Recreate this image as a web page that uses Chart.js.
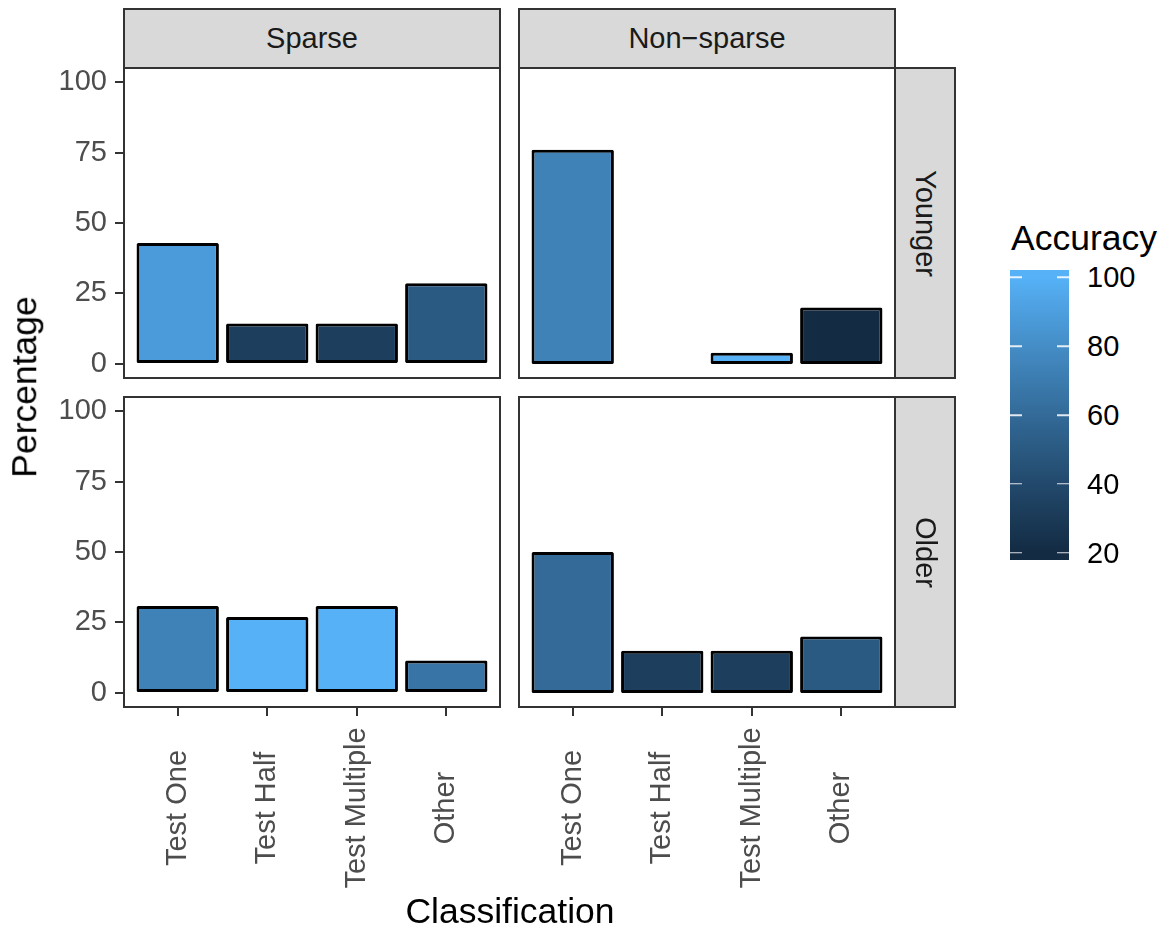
<!DOCTYPE html>
<html>
<head>
<meta charset="utf-8">
<script src="https://cdn.jsdelivr.net/npm/chart.js@4.4.0/dist/chart.umd.min.js"></script>
<style>
  html, body { margin: 0; padding: 0; background: #fff; }
  body { width: 1166px; height: 931px; position: relative; overflow: hidden;
         font-family: "Liberation Sans", Arial, sans-serif; }
  canvas { position: absolute; }
  .strip { position: absolute; box-sizing: border-box; background: #d9d9d9; border: 2px solid #333;
           display: flex; align-items: center; justify-content: center; color: #1a1a1a; font-size: 29px; }
  .strip span { white-space: nowrap; line-height: 1; }
  .strip.v span { transform: rotate(90deg); }
  .title { position: absolute; font-size: 35.5px; color: #000; white-space: nowrap; line-height: 1; }
  .lab { position: absolute; font-size: 29px; color: #000; line-height: 1; transform: translateY(-50%); }
  .ltick { position: absolute; height: 1.5px; width: 12px; background: rgba(255,255,255,0.85); transform: translateY(-50%); }
</style>
</head>
<body>
<canvas id="p-sy" width="520" height="350" style="left:0;top:48px"></canvas>
<canvas id="p-ny" width="416" height="350" style="left:499px;top:48px"></canvas>
<canvas id="p-so" width="520" height="554" style="left:0;top:377px"></canvas>
<canvas id="p-no" width="416" height="554" style="left:499px;top:377px"></canvas>

<div class="strip" style="left:123px;top:8px;width:378px;height:61px"><span id="s-col0"></span></div>
<div class="strip" style="left:518px;top:8px;width:378px;height:61px"><span id="s-col1"></span></div>
<div class="strip v" style="left:894px;top:67px;width:62px;height:312px"><span id="s-row0"></span></div>
<div class="strip v" style="left:894px;top:396px;width:62px;height:312px"><span id="s-row1"></span></div>

<div class="title" style="left:510px;top:912px;transform:translate(-50%,-50%)">Classification</div>
<div class="title" style="left:25px;top:387px;transform:translate(-50%,-50%) rotate(-90deg)">Percentage</div>
<div class="title" style="left:1011px;top:221px">Accuracy</div>
<div id="legend"></div>

<script>
// ---- data ----
const CATEGORIES = ['Test One', 'Test Half', 'Test Multiple', 'Other'];
const DENSITY = ['Sparse', 'Non\u2212sparse'];
const AGE = ['Younger', 'Older'];

const PCT_SPARSE_YOUNGER = [42.9, 14.3, 14.3, 28.6];
const PCT_NONSPARSE_YOUNGER = [76, null, 4, 20];
const PCT_SPARSE_OLDER = [30.8, 26.9, 30.8, 11.5];
const PCT_NONSPARSE_OLDER = [50, 15, 15, 20];

const ACC_SPARSE_YOUNGER = [88, 33, 33, 50];
const ACC_NONSPARSE_YOUNGER = [74, null, 100, 20];
const ACC_SPARSE_OLDER = [74, 100, 100, 66];
const ACC_NONSPARSE_OLDER = [60, 33, 33, 50];

const Y_TICKS = [0, 25, 50, 75, 100];
const ACC_TICKS = [20, 40, 60, 80, 100];
const ACC_MIN = 20, ACC_MAX = 100;

const FONT = '"Liberation Sans", Arial, sans-serif';
const LOW = '#132B43', HIGH = '#56B1F7';

// ---- Lab colour ramp (like scale_fill_gradient) ----
const WP = [0.95047, 1, 1.08883];
function toLin(c) { c /= 255; return c <= 0.04045 ? c / 12.92 : Math.pow((c + 0.055) / 1.055, 2.4); }
function fromLin(c) {
    const v = c <= 0.0031308 ? 12.92 * c : 1.055 * Math.pow(c, 1 / 2.4) - 0.055;
    return Math.round(Math.min(1, Math.max(0, v)) * 255);
}
function hexToLab(hex) {
    const r = toLin(parseInt(hex.slice(1, 3), 16)), g = toLin(parseInt(hex.slice(3, 5), 16)), b = toLin(parseInt(hex.slice(5, 7), 16));
    const xyz = [
        0.4124 * r + 0.3576 * g + 0.1805 * b,
        0.2126 * r + 0.7152 * g + 0.0722 * b,
        0.0193 * r + 0.1192 * g + 0.9505 * b,
    ];
    const f = xyz.map((v, i) => {
        const t = v / WP[i];
        return t > 0.008856 ? Math.cbrt(t) : 7.787 * t + 16 / 116;
    });
    return [116 * f[1] - 16, 500 * (f[0] - f[1]), 200 * (f[1] - f[2])];
}
function labToRgb(lab) {
    const fy = (lab[0] + 16) / 116, fx = fy + lab[1] / 500, fz = fy - lab[2] / 200;
    const inv = t => (t * t * t > 0.008856 ? t * t * t : (t - 16 / 116) / 7.787);
    const X = inv(fx) * WP[0], Y = inv(fy) * WP[1], Z = inv(fz) * WP[2];
    const r = 3.2406 * X - 1.5372 * Y - 0.4986 * Z;
    const g = -0.9689 * X + 1.8758 * Y + 0.0415 * Z;
    const b = 0.0557 * X - 0.2040 * Y + 1.0570 * Z;
    return 'rgb(' + fromLin(r) + ',' + fromLin(g) + ',' + fromLin(b) + ')';
}
const LAB_LO = hexToLab(LOW), LAB_HI = hexToLab(HIGH);
function accColor(v) {
    const t = Math.min(1, Math.max(0, (v - ACC_MIN) / (ACC_MAX - ACC_MIN)));
    return labToRgb(LAB_LO.map((lo, i) => lo + (LAB_HI[i] - lo) * t));
}

// ---- panels ----
const borderPlugin = {
    id: 'panelBorder',
    afterDraw(chart) {
        const a = chart.chartArea, ctx = chart.ctx;
        ctx.save();
        ctx.strokeStyle = '#333';
        ctx.lineWidth = 2;
        ctx.strokeRect(a.left, a.top, a.right - a.left, a.bottom - a.top);
        ctx.restore();
    },
};

// x labels are centred on the tick (ggplot style), chart.js would right-align them
const xLabelPlugin = {
    id: 'xLabels',
    afterDraw(chart) {
        const sx = chart.scales.x;
        if (!sx.options.display) return;
        const ctx = chart.ctx;
        ctx.save();
        ctx.font = '29px ' + FONT;
        ctx.fillStyle = '#4d4d4d';
        ctx.textAlign = 'center';
        ctx.textBaseline = 'middle';
        CATEGORIES.forEach((c, i) => {
            ctx.save();
            ctx.translate(sx.getPixelForValue(i + 1), chart.chartArea.bottom + 101);
            ctx.rotate(-Math.PI / 2);
            ctx.fillText(c, 0, 0);
            ctx.restore();
        });
        ctx.restore();
    },
};

function makePanel(id, pct, acc, showY, showX) {
    const axisGrid = { drawOnChartArea: false, drawTicks: true, tickLength: 9, color: '#333', lineWidth: 2, offset: false };
    return new Chart(document.getElementById(id), {
        type: 'bar',
        data: {
            datasets: [{
                data: pct.map((v, i) => ({ x: i + 1, y: v })),
                backgroundColor: ctx => accColor(acc[ctx.dataIndex]),
                borderColor: '#000',
                borderWidth: 3,
                borderRadius: 1.5,
                borderSkipped: false,
                barPercentage: 0.92,
                categoryPercentage: 1,
            }],
        },
        options: {
            responsive: false,
            animation: false,
            layout: { padding: { left: showY ? 0 : 20, right: 20, top: 20, bottom: showX ? 0 : 20 } },
            plugins: { legend: { display: false }, tooltip: { enabled: false } },
            scales: {
                x: {
                    type: 'linear', min: 0.4, max: 4.6, offset: false, display: showX,
                    afterBuildTicks: s => { s.ticks = CATEGORIES.map((c, i) => ({ value: i + 1 })); },
                    afterFit: s => { s.height = showX ? 224 : 0; s.paddingLeft = 0; s.paddingRight = 0; },
                    ticks: { display: false, autoSkip: false },
                    grid: axisGrid,
                    border: { display: false },
                },
                y: {
                    min: -5, max: 105, display: showY,
                    afterBuildTicks: s => { s.ticks = Y_TICKS.map(v => ({ value: v })); },
                    afterFit: s => { s.width = showY ? 124 : 0; s.paddingTop = 0; s.paddingBottom = 0; },
                    ticks: { color: '#4d4d4d', font: { family: FONT, size: 29 }, padding: 8, autoSkip: false },
                    grid: axisGrid,
                    border: { display: false },
                },
            },
        },
        plugins: [borderPlugin, xLabelPlugin],
    });
}

makePanel('p-sy', PCT_SPARSE_YOUNGER, ACC_SPARSE_YOUNGER, true, false);
makePanel('p-ny', PCT_NONSPARSE_YOUNGER, ACC_NONSPARSE_YOUNGER, false, false);
makePanel('p-so', PCT_SPARSE_OLDER, ACC_SPARSE_OLDER, true, true);
makePanel('p-no', PCT_NONSPARSE_OLDER, ACC_NONSPARSE_OLDER, false, true);

document.getElementById('s-col0').textContent = DENSITY[0];
document.getElementById('s-col1').textContent = DENSITY[1];
document.getElementById('s-row0').textContent = AGE[0];
document.getElementById('s-row1').textContent = AGE[1];

// ---- colour bar legend ----
(function () {
    const top = 270, h = 290, left = 1010, w = 59;
    const half = h / 40; // ggplot draws 20 bins, ticks at bin centres
    const legend = document.getElementById('legend');
    const stops = [];
    for (let k = 0; k <= 20; k++) {
        const v = ACC_MIN + (ACC_MAX - ACC_MIN) * k / 20;
        const pos = (half + (h - 2 * half) * k / 20) / h * 100;
        stops.push(accColor(v) + ' ' + pos.toFixed(2) + '%');
    }
    const bar = document.createElement('div');
    bar.style.cssText = 'position:absolute;left:' + left + 'px;top:' + top + 'px;width:' + w + 'px;height:' + h +
        'px;background:linear-gradient(to top,' + accColor(ACC_MIN) + ' 0%,' + stops.join(',') + ',' + accColor(ACC_MAX) + ' 100%)';
    legend.appendChild(bar);
    ACC_TICKS.forEach(v => {
        const y = top + h - half - (h - 2 * half) * (v - ACC_MIN) / (ACC_MAX - ACC_MIN);
        [left, left + w - 12].forEach(x => {
            const t = document.createElement('div');
            t.className = 'ltick';
            t.style.left = x + 'px';
            t.style.top = y + 'px';
            legend.appendChild(t);
        });
        const l = document.createElement('div');
        l.className = 'lab';
        l.style.left = '1087px';
        l.style.top = y + 'px';
        l.textContent = v;
        legend.appendChild(l);
    });
})();
</script>
</body>
</html>
